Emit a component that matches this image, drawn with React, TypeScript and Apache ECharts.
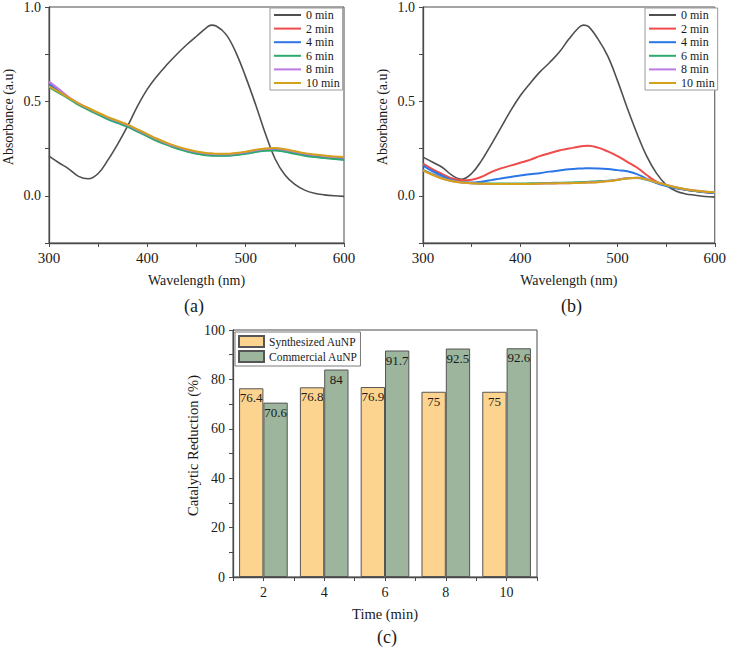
import React, { useEffect, useRef } from "react";
import * as echarts from "echarts";

// Shared wavelength grid (nm) for every absorbance spectrum
const wavelengths = [
  300, 310, 320, 330, 340, 350, 360, 370, 380, 390, 400, 410, 420, 430, 440, 450,
  460, 465, 470, 480, 490, 500, 510, 520, 530, 540, 550, 560, 570, 580, 590, 600,
];

const seriesNames = ["0 min", "2 min", "4 min", "6 min", "8 min", "10 min"];
const seriesColors = ["#4f4f4f", "#f04a4a", "#2a76e6", "#2eaa6e", "#bd79e4", "#d6a11a"];

// Panel (a) spectra
const a0 = [0.21, 0.175, 0.143, 0.103, 0.09, 0.118, 0.19, 0.275, 0.37, 0.475, 0.565, 0.635, 0.695, 0.75, 0.8, 0.845, 0.89, 0.904, 0.899, 0.855, 0.76, 0.63, 0.485, 0.33, 0.195, 0.11, 0.06, 0.03, 0.013, 0.005, 0.0, -0.003];
const a2 = [0.6, 0.562, 0.522, 0.488, 0.462, 0.437, 0.413, 0.393, 0.373, 0.348, 0.323, 0.298, 0.276, 0.258, 0.243, 0.231, 0.223, 0.221, 0.219, 0.219, 0.223, 0.23, 0.24, 0.247, 0.249, 0.242, 0.232, 0.222, 0.215, 0.209, 0.204, 0.2];
const a4 = [0.59, 0.555, 0.518, 0.485, 0.458, 0.432, 0.408, 0.388, 0.368, 0.343, 0.318, 0.293, 0.272, 0.253, 0.238, 0.225, 0.217, 0.215, 0.214, 0.214, 0.218, 0.225, 0.235, 0.241, 0.243, 0.236, 0.226, 0.216, 0.209, 0.203, 0.198, 0.194];
const a6 = [0.575, 0.545, 0.515, 0.482, 0.455, 0.43, 0.405, 0.385, 0.365, 0.34, 0.315, 0.29, 0.27, 0.25, 0.235, 0.222, 0.215, 0.213, 0.212, 0.212, 0.216, 0.222, 0.232, 0.238, 0.24, 0.233, 0.222, 0.212, 0.205, 0.2, 0.195, 0.19];
const a8 = [0.605, 0.565, 0.522, 0.489, 0.463, 0.438, 0.414, 0.394, 0.374, 0.349, 0.324, 0.299, 0.277, 0.259, 0.244, 0.232, 0.224, 0.222, 0.22, 0.22, 0.224, 0.231, 0.241, 0.248, 0.25, 0.243, 0.233, 0.223, 0.216, 0.21, 0.205, 0.201];
const a10 = [0.58, 0.55, 0.52, 0.49, 0.465, 0.44, 0.417, 0.397, 0.377, 0.352, 0.327, 0.302, 0.28, 0.262, 0.247, 0.235, 0.227, 0.225, 0.223, 0.223, 0.227, 0.234, 0.244, 0.251, 0.253, 0.246, 0.236, 0.226, 0.219, 0.213, 0.208, 0.205];

// Panel (b) spectra
const b0 = [0.205, 0.178, 0.15, 0.108, 0.088, 0.118, 0.185, 0.27, 0.36, 0.45, 0.53, 0.595, 0.655, 0.705, 0.76, 0.83, 0.89, 0.904, 0.897, 0.83, 0.74, 0.61, 0.465, 0.33, 0.21, 0.12, 0.058, 0.025, 0.01, 0.003, -0.004, -0.007];
const b2 = [0.17, 0.14, 0.115, 0.092, 0.082, 0.085, 0.1, 0.125, 0.145, 0.16, 0.175, 0.19, 0.21, 0.225, 0.24, 0.25, 0.26, 0.264, 0.265, 0.255, 0.235, 0.21, 0.18, 0.15, 0.11, 0.075, 0.055, 0.042, 0.032, 0.025, 0.019, 0.015];
const b4 = [0.16, 0.13, 0.105, 0.083, 0.072, 0.07, 0.075, 0.083, 0.092, 0.1, 0.107, 0.114, 0.12, 0.128, 0.134, 0.14, 0.144, 0.145, 0.146, 0.145, 0.142, 0.136, 0.13, 0.115, 0.09, 0.068, 0.052, 0.04, 0.032, 0.025, 0.019, 0.015];
const b6 = [0.137, 0.115, 0.095, 0.08, 0.072, 0.067, 0.066, 0.065, 0.065, 0.065, 0.065, 0.066, 0.067, 0.068, 0.069, 0.07, 0.072, 0.073, 0.074, 0.077, 0.08, 0.085, 0.093, 0.094, 0.085, 0.07, 0.056, 0.043, 0.033, 0.026, 0.021, 0.018];
const b8 = [0.135, 0.112, 0.092, 0.078, 0.07, 0.066, 0.064, 0.063, 0.063, 0.063, 0.063, 0.063, 0.064, 0.065, 0.066, 0.067, 0.068, 0.069, 0.07, 0.073, 0.078, 0.085, 0.093, 0.095, 0.087, 0.072, 0.058, 0.045, 0.035, 0.028, 0.022, 0.019];
const b10 = [0.133, 0.11, 0.09, 0.077, 0.07, 0.066, 0.064, 0.063, 0.063, 0.063, 0.063, 0.063, 0.064, 0.065, 0.066, 0.067, 0.068, 0.069, 0.07, 0.072, 0.077, 0.084, 0.092, 0.095, 0.087, 0.072, 0.058, 0.045, 0.035, 0.028, 0.022, 0.019];

// Panel (c) catalytic reduction
const times = ["2", "4", "6", "8", "10"];
const synthesized = [76.4, 76.8, 76.9, 75, 75];
const commercial = [70.6, 84, 91.7, 92.5, 92.6];

const FONT = "'Liberation Serif', 'Times New Roman', serif";
const AXIS_COLOR = "#4a4a4a";
const TEXT_COLOR = "#1a1a1a";

const spectraA = [a0, a2, a4, a6, a8, a10];
const spectraB = [b0, b2, b4, b6, b8, b10];

function spectrumSeries(values: number[][], gridIdx: number) {
  return values.map((arr, i) => ({
    name: seriesNames[i],
    type: "line",
    xAxisIndex: gridIdx,
    yAxisIndex: gridIdx,
    data: wavelengths.map((w, k) => [w, arr[k]]),
    smooth: 0.4,
    symbol: "none",
    color: seriesColors[i],
    lineStyle: { width: i === 0 ? 1.6 : 2, color: seriesColors[i] },
    z: 2 + i,
  }));
}

function wavelengthAxis(gridIndex: number) {
  return {
    gridIndex,
    type: "value",
    min: 300,
    max: 600,
    interval: 50,
    name: "Wavelength (nm)",
    nameLocation: "middle",
    nameGap: 30,
    nameTextStyle: { fontFamily: FONT, fontSize: 14, color: TEXT_COLOR },
    axisLine: { show: true, onZero: false, lineStyle: { color: AXIS_COLOR, width: 1.3 } },
    axisTick: { show: true, length: 4, lineStyle: { color: AXIS_COLOR } },
    axisLabel: {
      fontFamily: FONT,
      fontSize: 15,
      color: TEXT_COLOR,
      margin: 7,
      formatter: (v: number) => (v % 100 === 0 ? String(v) : ""),
    },
    splitLine: { show: false },
  };
}

function absorbanceAxis(gridIndex: number) {
  return {
    gridIndex,
    type: "value",
    min: -0.25,
    max: 1.0,
    interval: 0.25,
    name: "Absorbance (a.u)",
    nameLocation: "middle",
    nameGap: 34,
    nameRotate: 90,
    nameTextStyle: { fontFamily: FONT, fontSize: 14, color: TEXT_COLOR, padding: [0, 0, 0, 16] },
    axisLine: { show: true, onZero: false, lineStyle: { color: AXIS_COLOR, width: 1.3 } },
    axisTick: { show: true, length: 4, lineStyle: { color: AXIS_COLOR } },
    axisLabel: {
      fontFamily: FONT,
      fontSize: 14,
      color: TEXT_COLOR,
      margin: 8,
      formatter: (v: number) => (Math.abs((v * 2) % 1) < 1e-6 ? v.toFixed(1) : ""),
    },
    splitLine: { show: false },
  };
}

function spectrumLegend(left: number) {
  return {
    data: seriesNames,
    left,
    top: 8,
    orient: "vertical",
    itemWidth: 27,
    itemHeight: 14,
    itemGap: 1.6,
    padding: [1, 3, 1, 3],
    borderColor: "#9a9a9a",
    borderWidth: 1,
    backgroundColor: "#ffffff",
    selectedMode: false,
    // plain line keys: hide the marker that line legends add by default
    itemStyle: { opacity: 0 },
    textStyle: { fontFamily: FONT, fontSize: 12, color: TEXT_COLOR },
  };
}

export default function App() {
  const ref = useRef<HTMLDivElement>(null);

  useEffect(() => {
    if (!ref.current) return;
    const chart = echarts.init(ref.current, undefined, { renderer: "svg" });

    const gridBase = { show: true, borderColor: AXIS_COLOR, borderWidth: 1, containLabel: false };

    chart.setOption({
      animation: false,
      backgroundColor: "#ffffff",
      textStyle: { fontFamily: FONT },
      grid: [
        { ...gridBase, left: 48, top: 5, width: 296, height: 238 },
        { ...gridBase, left: 423, top: 5, width: 296, height: 238 },
        { ...gridBase, left: 233, top: 330, width: 304, height: 247 },
      ],
      xAxis: [
        wavelengthAxis(0),
        wavelengthAxis(1),
        {
          gridIndex: 2,
          type: "category",
          data: times,
          position: "bottom",
          name: "Time (min)",
          nameLocation: "middle",
          nameGap: 29,
          nameTextStyle: { fontFamily: FONT, fontSize: 14.5, color: TEXT_COLOR },
          axisLine: { show: true, lineStyle: { color: AXIS_COLOR, width: 1.3 } },
          axisTick: { show: true, length: 4, lineStyle: { color: AXIS_COLOR } },
          axisLabel: { fontFamily: FONT, fontSize: 14, color: TEXT_COLOR, margin: 8 },
          splitLine: { show: false },
        },
        {
          // centre ticks under each time point
          gridIndex: 2,
          type: "category",
          data: times,
          position: "bottom",
          axisLine: { show: false },
          axisTick: { show: true, alignWithLabel: true, length: 4, lineStyle: { color: AXIS_COLOR } },
          axisLabel: { show: false },
          splitLine: { show: false },
        },
      ],
      yAxis: [
        absorbanceAxis(0),
        absorbanceAxis(1),
        {
          gridIndex: 2,
          type: "value",
          min: 0,
          max: 100,
          interval: 10,
          name: "Catalytic Reduction (%)",
          nameLocation: "middle",
          nameGap: 31,
          nameRotate: 90,
          nameTextStyle: { fontFamily: FONT, fontSize: 14.5, color: TEXT_COLOR, padding: [0, 0, 0, 16] },
          axisLine: { show: true, lineStyle: { color: AXIS_COLOR, width: 1.3 } },
          axisTick: { show: true, length: 4, lineStyle: { color: AXIS_COLOR } },
          axisLabel: {
            fontFamily: FONT,
            fontSize: 14,
            color: TEXT_COLOR,
            margin: 8,
            formatter: (v: number) => (v % 20 === 0 ? String(v) : ""),
          },
          splitLine: { show: false },
        },
      ],
      legend: [
        spectrumLegend(270),
        spectrumLegend(645),
        {
          data: ["Synthesized AuNP", "Commercial AuNP"],
          left: 235,
          top: 332,
          orient: "vertical",
          icon: "rect",
          itemWidth: 25,
          itemHeight: 11,
          itemGap: 2,
          padding: [3, 3, 3, 3],
          borderColor: "#7a7a7a",
          borderWidth: 1,
          backgroundColor: "#ffffff",
          selectedMode: false,
          textStyle: { fontFamily: FONT, fontSize: 11.5, color: TEXT_COLOR },
        },
      ],
      series: [
        ...spectrumSeries(spectraA, 0),
        ...spectrumSeries(spectraB, 1),
        {
          name: "Synthesized AuNP",
          type: "bar",
          xAxisIndex: 2,
          yAxisIndex: 2,
          data: synthesized,
          barCategoryGap: "20%",
          barGap: "0%",
          itemStyle: { color: "#fdd48f", borderColor: "#555555", borderWidth: 1 },
          label: {
            show: true,
            position: "insideTop",
            distance: 3,
            fontFamily: FONT,
            fontSize: 13,
            color: TEXT_COLOR,
          },
        },
        {
          name: "Commercial AuNP",
          type: "bar",
          xAxisIndex: 2,
          yAxisIndex: 2,
          data: commercial,
          barCategoryGap: "20%",
          barGap: "0%",
          itemStyle: { color: "#9cb59c", borderColor: "#555555", borderWidth: 1 },
          label: {
            show: true,
            position: "insideTop",
            distance: 3,
            fontFamily: FONT,
            fontSize: 13,
            color: TEXT_COLOR,
          },
        },
      ],
      graphic: [
        { type: "text", left: 184, top: 297, style: { text: "(a)", fontFamily: FONT, fontSize: 18, fill: TEXT_COLOR } },
        { type: "text", left: 561, top: 297, style: { text: "(b)", fontFamily: FONT, fontSize: 18, fill: TEXT_COLOR } },
        { type: "text", left: 377, top: 628, style: { text: "(c)", fontFamily: FONT, fontSize: 18, fill: TEXT_COLOR } },
      ],
    });

    return () => chart.dispose();
  }, []);

  return (
    <div
      ref={ref}
      style={{ position: "fixed", left: 0, top: 0, width: 729, height: 647, background: "#fff" }}
    />
  );
}
